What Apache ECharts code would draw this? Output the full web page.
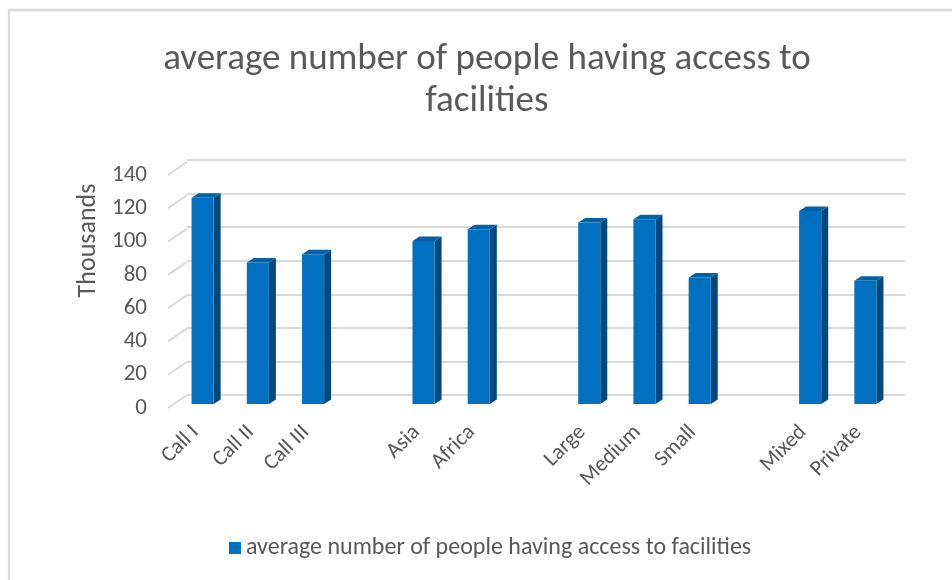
<!DOCTYPE html>
<html><head><meta charset="utf-8">
<script src="https://cdn.jsdelivr.net/npm/echarts@6/dist/echarts.min.js"></script>
<style>html,body{margin:0;padding:0;background:#fff}#c{width:952px;height:580px}</style>
</head><body><div id="c"></div>
<script>
// ---- data ----
const titleText = 'average number of people having access to\nfacilities';
const seriesName = 'average number of people having access to facilities';
const categories = ['Call I', 'Call II', 'Call III', '', 'Asia', 'Africa', '', 'Large', 'Medium', 'Small', '', 'Mixed', 'Private'];
const values = [124, 85, 90, null, 98, 105, null, 109, 111, 76, null, 116, 74];
const yTicks = [0, 20, 40, 60, 80, 100, 120, 140];
const yAxisName = 'Thousands';

// ---- styling ----
const FONT = 'Carlito, Lato, sans-serif';
const GRAY = '#595959';
const GRID_COLOR = '#d9d9d9';
const DEPTH = [19, -13];      // front -> back wall offset
const BAR_DEPTH = [7, -4.5];  // bar side depth
const C_FRONT = '#0070C0', C_SIDE = '#00497F', C_TOP = '#0361A6';

const yMin = yTicks[0], yMax = yTicks[yTicks.length - 1], yStep = yTicks[1] - yTicks[0];

const chart = echarts.init(document.getElementById('c'), null, { renderer: 'canvas' });

const grids = [
  { left: 168, right: 66, top: 175, bottom: 172 }, // front plane (labels)
  { left: 187, right: 47, top: 160, bottom: 185 }, // back wall (gridlines)
  { left: 175, right: 59, top: 171, bottom: 176 }  // bar plane
];

const xAxes = grids.map((g, i) => ({
  type: 'category', gridIndex: i, data: categories, boundaryGap: true,
  axisLine: { show: false }, axisTick: { show: false },
  axisLabel: i === 0 ? { show: true, rotate: 45, interval: 0, margin: 21, padding: [14, 0, 0, 0], color: GRAY, fontFamily: FONT, fontSize: 22 } : { show: false },
  splitLine: { show: false }
}));

const yAxes = grids.map((g, i) => ({
  type: 'value', gridIndex: i, min: yMin, max: yMax, interval: yStep,
  axisLine: { show: false }, axisTick: { show: false },
  axisLabel: i === 0 ? { show: true, margin: 21, padding: [3, 0, 0, 0], color: GRAY, fontFamily: FONT, fontSize: 23 } : { show: false },
  splitLine: i === 1 ? { show: true, lineStyle: { color: GRID_COLOR, width: 2 } } : { show: false },
  name: i === 0 ? yAxisName : '',
  nameLocation: 'middle', nameGap: 64, nameRotate: 90,
  nameTextStyle: { color: GRAY, fontFamily: FONT, fontSize: 26, padding: [0, 0, 0, 102] }
}));

const barData = [];
values.forEach((v, i) => { if (v !== null) barData.push([i, v]); });

const option = {
  animation: false,
  backgroundColor: '#fff',
  title: {
    text: titleText, left: 482, top: 34, textAlign: 'center',
    textStyle: { color: GRAY, fontFamily: FONT, fontSize: 37, fontWeight: 'normal', lineHeight: 42 }
  },
  legend: {
    data: [{ name: seriesName, icon: 'rect' }],
    left: 229, top: 536, padding: 0, itemWidth: 12, itemHeight: 12, itemGap: 6,
    textStyle: { color: GRAY, fontFamily: FONT, fontSize: 24 }
  },
  grid: grids,
  xAxis: xAxes,
  yAxis: yAxes,
  graphic: [{
    type: 'rect', silent: true, z: -1,
    shape: { x: 9, y: 10, width: 1000, height: 1000 },
    style: { fill: 'none', stroke: GRID_COLOR, lineWidth: 2.5 }
  }],
  series: [
    {
      type: 'custom', name: 'wall', xAxisIndex: 0, yAxisIndex: 0, silent: true,
      data: yTicks.map(t => [0, t]),
      renderItem(params, api) {
        const y = api.coord([0, api.value(1)])[1];
        const x = params.coordSys.x;
        return { type: 'line', shape: { x1: x, y1: y, x2: x + DEPTH[0], y2: y + DEPTH[1] },
          style: { stroke: GRID_COLOR, lineWidth: 2 } };
      }
    },
    {
      type: 'custom', name: seriesName, xAxisIndex: 2, yAxisIndex: 2,
      itemStyle: { color: C_FRONT },
      data: barData,
      encode: { x: 0, y: 1 },
      renderItem(params, api) {
        const idx = api.value(0), v = api.value(1);
        const top = api.coord([idx, v]);
        const base = api.coord([idx, 0]);
        const band = api.size([1, 0])[0];
        const w = band * 0.4;
        const x0 = top[0] - w / 2, x1 = top[0] + w / 2;
        const dx = BAR_DEPTH[0], dy = BAR_DEPTH[1];
        return { type: 'group', children: [
          { type: 'polygon', shape: { points: [[x1, top[1]], [x1 + dx, top[1] + dy], [x1 + dx, base[1] + dy], [x1, base[1]]] }, style: { fill: C_SIDE } },
          { type: 'polygon', shape: { points: [[x0, top[1]], [x0 + dx, top[1] + dy], [x1 + dx, top[1] + dy], [x1, top[1]]] }, style: { fill: C_TOP } },
          { type: 'rect', shape: { x: x0, y: top[1], width: w, height: base[1] - top[1] }, style: { fill: C_FRONT } }
        ] };
      }
    }
  ]
};
chart.setOption(option);
</script>
</body></html>
